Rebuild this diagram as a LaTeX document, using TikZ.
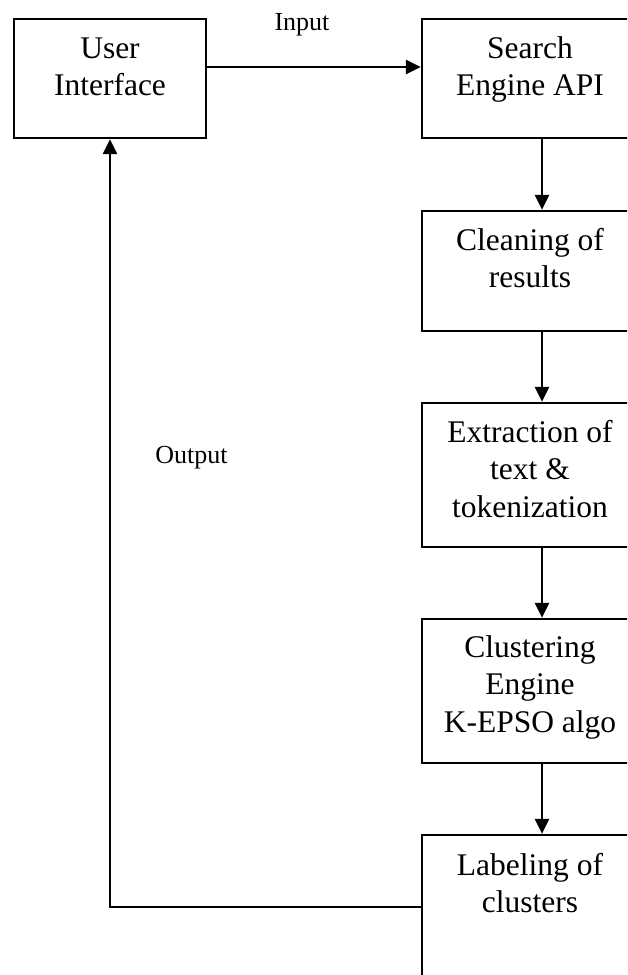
\documentclass[tikz,border=0pt]{standalone}
\usepackage{fontspec}
\setmainfont{Liberation Serif}
\usetikzlibrary{arrows.meta}
\begin{document}
\begin{tikzpicture}[x=1pt,y=-1pt,
  box/.style={draw=black, line width=2.3pt, inner sep=0pt, minimum width=#1},
  box/.default=218pt,
  boxtext/.style={anchor=north, inner sep=0pt, align=center, font=\fontsize{31.5}{37.5}\selectfont},
  lbl/.style={anchor=base, inner sep=0pt, font=\fontsize{26}{30}\selectfont},
  conn/.style={line width=2.3pt, -{Triangle[length=15pt,width=14pt]}}]
\useasboundingbox (0,0) rectangle (627,975);
\clip (0,0) rectangle (627,975);
\fill[white] (0,0) rectangle (627,975);
\coordinate (ax) at (542,0);
\coordinate (ay) at (0,67);
% boxes
\node[box=192pt, minimum height=119pt] (ui) at (110,78.5) {};
\node[box, minimum height=119pt] (se) at (531,78.5) {};
\node[box, minimum height=120pt] (cl) at (531,271) {};
\node[box, minimum height=144pt] (ex) at (531,475) {};
\node[box, minimum height=144pt] (ck) at (531,691) {};
\node[box, minimum height=144pt] (lb) at (531,907) {};
% texts
\node[boxtext] (uit) at (110,31.75) {\strut User\\Interface};
\node[boxtext] (set) at (530,31.75) {\strut Search\\Engine API};
\node[boxtext] (clt) at (530,223.75) {\strut Cleaning of\\results};
\node[boxtext] (ext) at (530,415.75) {\strut Extraction of\\text \&\\tokenization};
\node[boxtext] (ckt) at (530,630.75) {\strut Clustering\\Engine\\K-EPSO algo};
\node[boxtext] (lbt) at (530,848.75) {\strut Labeling of\\clusters};
% labels
\node[lbl] (inp) at (302,30) {Input};
\node[lbl] (outp) at (191.5,463) {Output};
% connectors
\draw[conn] (ui.east |- ay) -- (se.west |- ay);
\draw[conn] (se.south -| ax) -- (cl.north -| ax);
\draw[conn] (cl.south -| ax) -- (ex.north -| ax);
\draw[conn] (ex.south -| ax) -- (ck.north -| ax);
\draw[conn] (ck.south -| ax) -- (lb.north -| ax);
\draw[conn] (lb.west) -| (ui.south);
\end{tikzpicture}
\end{document}
